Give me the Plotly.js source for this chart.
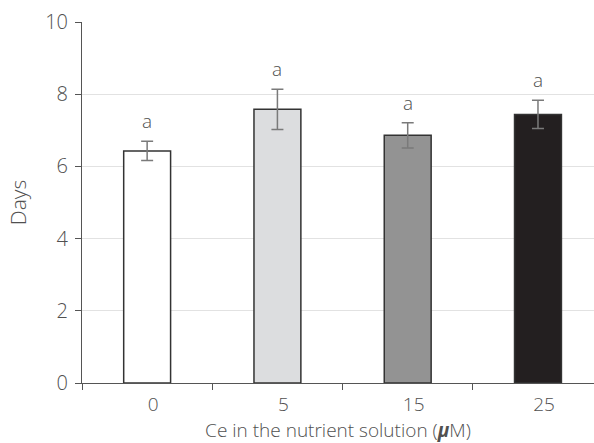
<!DOCTYPE html>
<html>
<head>
<meta charset="utf-8">
<script src="https://cdn.plot.ly/plotly-3.0.1.min.js"></script>
<style>html,body{margin:0;padding:0;background:#fff}#chart{width:594px;height:443px}</style>
</head>
<body>
<div id="chart"></div>
<script>
const categories = ["0", "5", "15", "25"];
const meanDays = [6.43, 7.58, 6.86, 7.44];
const errDays = [0.27, 0.56, 0.35, 0.39];
const letters = ["a", "a", "a", "a"];
const barColors = ["#ffffff", "#dcdddf", "#939393", "#231f20"];

const FAM = "'Open Sans', Lato, sans-serif";
const TXT = "#505050";

const trace = {
  type: "bar",
  x: categories,
  y: meanDays,
  width: 0.36,
  marker: {color: barColors, line: {color: "#333333", width: 1.5}},
  error_y: {type: "data", array: errDays, visible: true, color: "#7a7a7a", thickness: 1.5, width: 6},
  hoverinfo: "none"
};

const annotations = categories.map((c, i) => ({
  x: i, y: meanDays[i] + errDays[i], xref: "x", yref: "y",
  text: letters[i], showarrow: false, yanchor: "bottom", yshift: 5,
  font: {family: FAM, size: 19, color: TXT, weight: 300}
}));

const layout = {
  width: 594, height: 443,
  margin: {l: 82, r: 0, t: 22, b: 60},
  paper_bgcolor: "#ffffff", plot_bgcolor: "#ffffff",
  font: {family: FAM, color: TXT, size: 18},
  showlegend: false,
  xaxis: {
    type: "category",
    range: [-0.5, 3.43],
    showline: true, linecolor: "#555555", linewidth: 1,
    ticks: "outside", tickson: "boundaries", ticklen: 6, tickcolor: "#555555", tickwidth: 1,
    showgrid: false, zeroline: false,
    ticklabelshift: 6, ticklabelstandoff: 4,
    tickfont: {family: FAM, size: 19, color: TXT, weight: 300},
    title: {text: "Ce in the nutrient solution (<i><b>μ</b></i>M)", standoff: 4,
            font: {family: FAM, size: 19, color: TXT, weight: 300}},
    fixedrange: true
  },
  yaxis: {
    range: [0, 10],
    tickvals: [0, 2, 4, 6, 8, 10],
    showline: true, linecolor: "#555555", linewidth: 1,
    ticks: "outside", ticklen: 6, tickcolor: "#555555", tickwidth: 1,
    showgrid: true, gridcolor: "#e2e2e2", gridwidth: 1,
    zeroline: false,
    ticklabelstandoff: 3,
    tickfont: {family: FAM, size: 20, color: TXT, weight: 300},
    title: {text: "Days", standoff: 12,
            font: {family: FAM, size: 21, color: TXT, weight: 300}},
    fixedrange: true
  },
  annotations: annotations
};

Plotly.newPlot("chart", [trace], layout, {displayModeBar: false, staticPlot: true});
</script>
</body>
</html>
